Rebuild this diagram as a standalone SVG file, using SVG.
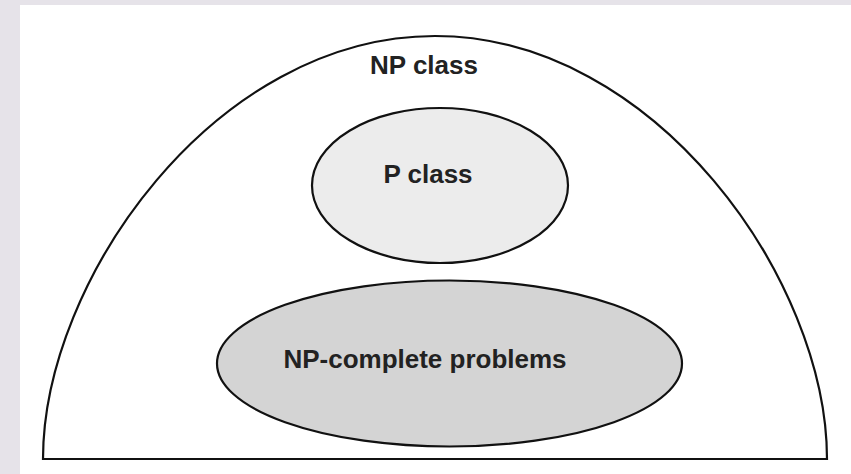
<svg xmlns="http://www.w3.org/2000/svg" width="851" height="474" viewBox="0 0 851 474">
<style>
.ln{stroke:#111;stroke-width:2.2;}
.lbl{font-family:"Liberation Sans",Arial,sans-serif;font-weight:bold;font-size:26px;fill:#222;text-anchor:middle;}
</style>
<rect x="0" y="0" width="851" height="474" fill="#e6e3e9"/>
<rect x="20" y="5" width="831" height="469" fill="#ffffff"/>
<g id="np-class">
<path class="ln" d="M43,459 C43,280 215,36 435,36 C655,36 827,280 827,459 Z" fill="#ffffff"/>
<text class="lbl" x="424" y="74">NP class</text>
</g>
<g id="p-class">
<ellipse class="ln" cx="440" cy="185.5" rx="128" ry="77.5" fill="#ececec"/>
<text class="lbl" x="428" y="183">P class</text>
</g>
<g id="np-complete">
<ellipse class="ln" cx="449.5" cy="363.5" rx="232.5" ry="83" fill="#d4d4d4"/>
<text class="lbl" x="425" y="368">NP-complete problems</text>
</g>
<g id="connectors"></g>
</svg>
